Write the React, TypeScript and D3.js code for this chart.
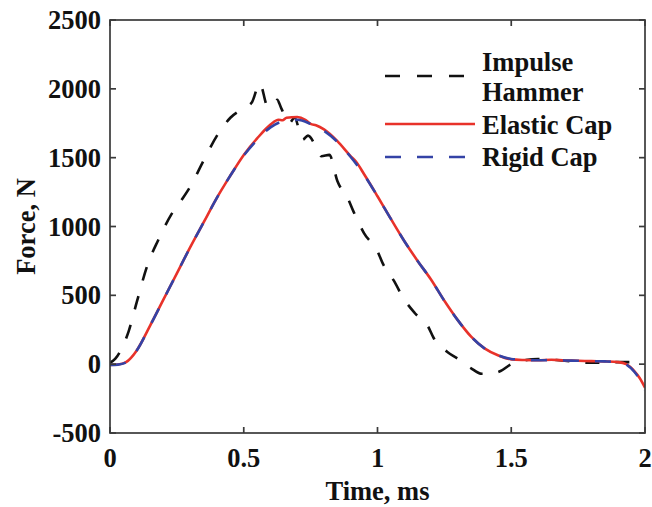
import React from "react";
import * as d3 from "d3";

const hammerT = [0, 0.02, 0.04, 0.07, 0.1, 0.14, 0.18, 0.23, 0.27, 0.3, 0.35, 0.4, 0.45, 0.5, 0.53, 0.56, 0.59, 0.61, 0.625, 0.64, 0.67, 0.69, 0.72, 0.74, 0.77, 0.79, 0.82, 0.85, 0.89, 0.91, 0.95, 1.0, 1.02, 1.06, 1.1, 1.14, 1.19, 1.21, 1.26, 1.3, 1.35, 1.39, 1.42, 1.46, 1.5, 1.55, 1.6, 1.7, 1.8, 1.9, 2.0];
const hammerF = [10, 40, 100, 240, 450, 720, 900, 1090, 1200, 1290, 1480, 1660, 1790, 1860, 1900, 2040, 1870, 1880, 1920, 1860, 1750, 1790, 1630, 1660, 1580, 1510, 1520, 1330, 1200, 1110, 950, 820, 730, 610, 470, 370, 270, 190, 90, 40, -30, -70, -70, -50, 0, 28, 38, 25, 10, 15, 15];

const elasticT = [0, 0.03, 0.06, 0.1, 0.15, 0.2, 0.25, 0.3, 0.35, 0.4, 0.45, 0.5, 0.55, 0.6, 0.63, 0.645, 0.66, 0.7, 0.73, 0.75, 0.77, 0.8, 0.85, 0.9, 0.92, 0.95, 1.0, 1.05, 1.1, 1.15, 1.2, 1.25, 1.3, 1.35, 1.4, 1.45, 1.5, 1.55, 1.6, 1.65, 1.7, 1.75, 1.8, 1.85, 1.9, 1.93, 1.96, 1.98, 2.0];
const elasticF = [-5, -2, 15, 100, 280, 470, 660, 850, 1030, 1210, 1370, 1520, 1640, 1740, 1775, 1772, 1790, 1795, 1775, 1745, 1735, 1705, 1620, 1510, 1470, 1380, 1220, 1055, 895, 750, 615, 460, 320, 200, 115, 65, 35, 30, 28, 32, 27, 25, 22, 20, 15, 0, -50, -100, -170];

const rigidT = [0, 0.03, 0.06, 0.1, 0.15, 0.2, 0.25, 0.3, 0.35, 0.4, 0.45, 0.5, 0.55, 0.6, 0.65, 0.7, 0.75, 0.8, 0.85, 0.9, 0.95, 1.0, 1.05, 1.1, 1.15, 1.2, 1.25, 1.3, 1.35, 1.4, 1.45, 1.5, 1.55, 1.6, 1.65, 1.7, 1.75, 1.8, 1.85, 1.9, 1.93, 1.96, 1.98, 2.0];
const rigidF = [-5, -3, 12, 100, 280, 470, 660, 850, 1030, 1210, 1370, 1515, 1630, 1720, 1765, 1775, 1745, 1695, 1615, 1505, 1375, 1220, 1055, 895, 750, 615, 460, 320, 200, 115, 65, 38, 32, 28, 30, 27, 25, 22, 20, 15, -2, -55, -110, -190];

const xTicks = [0, 0.5, 1, 1.5, 2];
const xTickLabels = ["0", "0.5", "1", "1.5", "2"];
const yTicks = [-500, 0, 500, 1000, 1500, 2000, 2500];
const yTickLabels = ["-500", "0", "500", "1000", "1500", "2000", "2500"];

const legendLabels = [["Impulse", "Hammer"], ["Elastic Cap"], ["Rigid Cap"]];

const BLACK = "#111111";
const RED = "#e8322a";
const BLUE = "#3443a6";
const AXIS = "#3a3a3a";
const FONT = "'Liberation Serif', 'Times New Roman', serif";

export default function App() {
  const W = 652, H = 507;
  const left = 110, right = 645, top = 20, bottom = 433;
  const x = d3.scaleLinear().domain([0, 2]).range([left, right]);
  const y = d3.scaleLinear().domain([-500, 2500]).range([bottom, top]);

  const mk = (ts: number[], fs: number[]) =>
    d3.line<number>().x((_, i) => x(ts[i])).y((_, i) => y(fs[i])).curve(d3.curveMonotoneX)(fs) || "";

  const hammerPath = mk(hammerT, hammerF);
  const elasticPath = mk(elasticT, elasticF);
  const rigidPath = mk(rigidT, rigidF);

  const tickLen = 6;
  const fs = 26.5;

  return (
    <svg width={W} height={H} style={{ position: "absolute", left: 0, top: 0, background: "#fff" }} fontFamily={FONT}>
      <defs>
        <clipPath id="plotclip">
          <rect x={left} y={top} width={right - left} height={bottom - top} />
        </clipPath>
      </defs>
      <g clipPath="url(#plotclip)">
        <path d={hammerPath} fill="none" stroke={BLACK} strokeWidth={2.6} strokeDasharray="14,16" />
        <path d={elasticPath} fill="none" stroke={RED} strokeWidth={2.6} />
        <path d={rigidPath} fill="none" stroke={BLUE} strokeWidth={2.6} strokeDasharray="16,16" />
      </g>
      <rect x={left} y={top} width={right - left} height={bottom - top} fill="none" stroke={AXIS} strokeWidth={1.7} />
      {xTicks.map((t, i) => (
        <g key={"xt" + i}>
          <line x1={x(t)} x2={x(t)} y1={bottom} y2={bottom - tickLen} stroke={AXIS} strokeWidth={1.7} />
          <line x1={x(t)} x2={x(t)} y1={top} y2={top + tickLen} stroke={AXIS} strokeWidth={1.7} />
          <text x={x(t)} y={467} textAnchor="middle" fontSize={fs} fontWeight="bold" fill="#111">
            {xTickLabels[i]}
          </text>
        </g>
      ))}
      {yTicks.map((v, i) => (
        <g key={"yt" + i}>
          <line x1={left} x2={left + tickLen} y1={y(v)} y2={y(v)} stroke={AXIS} strokeWidth={1.7} />
          <line x1={right} x2={right - tickLen} y1={y(v)} y2={y(v)} stroke={AXIS} strokeWidth={1.7} />
          <text x={101} y={y(v) + 9} textAnchor="end" fontSize={fs} fontWeight="bold" fill="#111">
            {yTickLabels[i]}
          </text>
        </g>
      ))}
      <text x={(left + right) / 2} y={500} textAnchor="middle" fontSize={fs} fontWeight="bold" fill="#111">
        Time, ms
      </text>
      <text transform={`translate(35, ${(top + bottom) / 2}) rotate(-90)`} textAnchor="middle" fontSize={fs} fontWeight="bold" fill="#111">
        Force, N
      </text>
      <line x1={385} x2={474} y1={76} y2={76} stroke={BLACK} strokeWidth={2.6} strokeDasharray="15,17" />
      <text x={482} y={71} fontSize={fs} fontWeight="bold" fill="#111">{legendLabels[0][0]}</text>
      <text x={482} y={101} fontSize={fs} fontWeight="bold" fill="#111">{legendLabels[0][1]}</text>
      <line x1={385} x2={475} y1={124} y2={124} stroke={RED} strokeWidth={2.6} />
      <text x={482} y={134} fontSize={fs} fontWeight="bold" fill="#111">{legendLabels[1][0]}</text>
      <line x1={385} x2={465} y1={157} y2={157} stroke={BLUE} strokeWidth={2.6} strokeDasharray="16,16" />
      <text x={482} y={166} fontSize={fs} fontWeight="bold" fill="#111">{legendLabels[2][0]}</text>
    </svg>
  );
}
